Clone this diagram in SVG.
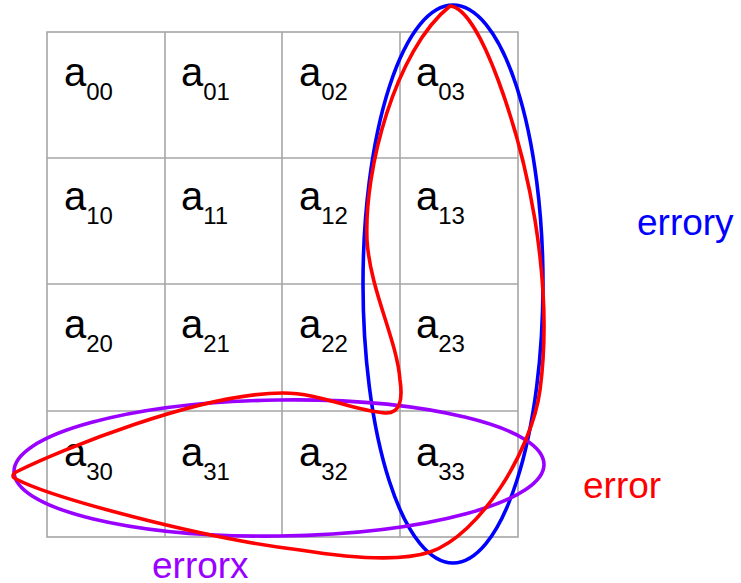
<svg xmlns="http://www.w3.org/2000/svg" width="741" height="583" viewBox="0 0 741 583">
<style>
.grid{fill:none;stroke:#a6a6a6;stroke-width:1.6}
.cell text{font-family:"Liberation Sans",Arial,sans-serif;fill:#000}
.a{font-size:40px}
.s{font-size:24px}
.lbl{font-family:"Liberation Sans",Arial,sans-serif;font-size:37px}
.curve{fill:none;stroke-width:3.6;stroke-linejoin:round}
</style>
<rect width="741" height="583" fill="#fff"/>
<g id="grid" class="grid">
<rect x="47" y="32" width="471" height="505"/>
<line x1="165" y1="32" x2="165" y2="537"/>
<line x1="282" y1="32" x2="282" y2="537"/>
<line x1="400" y1="32" x2="400" y2="537"/>
<line x1="47" y1="158" x2="518" y2="158"/>
<line x1="47" y1="284" x2="518" y2="284"/>
<line x1="47" y1="411" x2="518" y2="411"/>
</g>
<g id="cells" class="cell">
<g id="a00"><text x="64" y="86"><tspan class="a">a</tspan><tspan class="s" dy="14">00</tspan></text></g>
<g id="a01"><text x="181" y="86"><tspan class="a">a</tspan><tspan class="s" dy="14">01</tspan></text></g>
<g id="a02"><text x="299" y="86"><tspan class="a">a</tspan><tspan class="s" dy="14">02</tspan></text></g>
<g id="a03"><text x="416" y="86"><tspan class="a">a</tspan><tspan class="s" dy="14">03</tspan></text></g>
<g id="a10"><text x="64" y="210"><tspan class="a">a</tspan><tspan class="s" dy="14">10</tspan></text></g>
<g id="a11"><text x="181" y="210"><tspan class="a">a</tspan><tspan class="s" dy="14">11</tspan></text></g>
<g id="a12"><text x="299" y="210"><tspan class="a">a</tspan><tspan class="s" dy="14">12</tspan></text></g>
<g id="a13"><text x="416" y="210"><tspan class="a">a</tspan><tspan class="s" dy="14">13</tspan></text></g>
<g id="a20"><text x="64" y="338"><tspan class="a">a</tspan><tspan class="s" dy="14">20</tspan></text></g>
<g id="a21"><text x="181" y="338"><tspan class="a">a</tspan><tspan class="s" dy="14">21</tspan></text></g>
<g id="a22"><text x="299" y="338"><tspan class="a">a</tspan><tspan class="s" dy="14">22</tspan></text></g>
<g id="a23"><text x="416" y="338"><tspan class="a">a</tspan><tspan class="s" dy="14">23</tspan></text></g>
<g id="a30"><text x="64" y="466"><tspan class="a">a</tspan><tspan class="s" dy="14">30</tspan></text></g>
<g id="a31"><text x="181" y="466"><tspan class="a">a</tspan><tspan class="s" dy="14">31</tspan></text></g>
<g id="a32"><text x="299" y="466"><tspan class="a">a</tspan><tspan class="s" dy="14">32</tspan></text></g>
<g id="a33"><text x="416" y="466"><tspan class="a">a</tspan><tspan class="s" dy="14">33</tspan></text></g>
</g>
<g id="curves">
<ellipse id="errory-curve" class="curve" stroke="#0000ff" cx="453" cy="284" rx="90" ry="279"/>
<ellipse id="errorx-curve" class="curve" stroke="#9900ff" cx="279" cy="468" rx="265" ry="68" transform="rotate(-0.8 279 468)"/>
<path id="error-curve" class="curve" stroke="#ff0000" d="M450 6 C480 8 520 130 535 220 C543 270 548 330 540 390 C532 450 480 535 430 552 C400 562 350 558 300 550 C200 538 50 497 16 479 Q10 476 16 472 C60 450 200 393 283 393 C320 393 350 410 385 413 C400 414 403 400 400 380 C397 340 370 290 367 240 C364 170 395 50 450 6 Z"/>
</g>
<g id="labels" class="lbl">
<text id="errory" x="637" y="235" fill="#0000ff">errory</text>
<text id="error" x="583" y="498" fill="#ff0000">error</text>
<text id="errorx" x="152" y="578" fill="#9900ff">errorx</text>
</g>
</svg>
